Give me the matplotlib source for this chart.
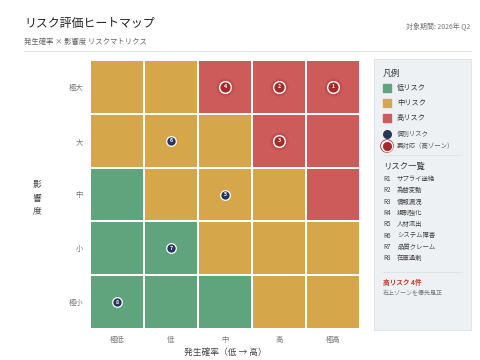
import numpy as np
import matplotlib
matplotlib.use("Agg")
import matplotlib.pyplot as plt
from matplotlib.colors import ListedColormap
from matplotlib.patches import Rectangle

plt.rcParams['font.family'] = ['Noto Sans CJK JP', 'DejaVu Sans']

#%% Data
prob_labels = ['極低', '低', '中', '高', '極高']
impact_labels = ['極小', '小', '中', '大', '極大']  # bottom -> top

# risk level per cell (rows bottom -> top): 0 low, 1 mid, 2 high
risk_level = np.array([
    [0, 0, 0, 1, 1],
    [0, 0, 1, 1, 1],
    [0, 1, 1, 1, 2],
    [1, 1, 1, 2, 2],
    [1, 1, 2, 2, 2],
])

risk_ids = ['R1', 'R2', 'R3', 'R4', 'R5', 'R6', 'R7', 'R8']
risk_names = ['サプライ途絶', '為替変動', '情報漏洩', '規制強化',
              '人材流出', 'システム障害', '品質クレーム', '在庫過剰']
risk_prob = [4, 3, 3, 2, 2, 1, 1, 0]
risk_impact = [4, 4, 3, 4, 2, 3, 1, 0]

level_names = ['低リスク', '中リスク', '高リスク']
level_colors = ['#5fa47c', '#d6a64a', '#cd5b5a']
navy = '#27365a'
darkred = '#a52b2b'

W, H = 480, 360
fig = plt.figure(figsize=(4.8, 3.6), dpi=100)

#%% Header
fig.text(24 / W, 1 - 23 / H, 'リスク評価ヒートマップ', fontsize=8.6, color='#222222', va='center')
fig.text(24 / W, 1 - 42 / H, '発生確率 × 影響度 リスクマトリクス', fontsize=5.3, color='#666666', va='center')
fig.text(470 / W, 1 - 27 / H, '対象期間: 2026年 Q2', fontsize=5, color='#777777', va='center', ha='right')
fig.add_artist(plt.Line2D([24 / W, 471 / W], [1 - 51 / H, 1 - 51 / H], color='#e2e4e8', lw=0.8))

#%% Heatmap
ax = fig.add_axes([90 / W, 31 / H, 270 / W, 269 / H])
ax.pcolormesh(np.arange(6) - 0.5, np.arange(6) - 0.5, risk_level,
              cmap=ListedColormap(level_colors), vmin=0, vmax=2,
              edgecolors='white', linewidth=1.2)
ax.set_xlim(-0.5, 4.5)
ax.set_ylim(-0.5, 4.5)
ax.set_xticks(range(5))
ax.set_xticklabels(prob_labels)
ax.set_yticks(range(5))
ax.set_yticklabels(impact_labels)
ax.tick_params(length=0, labelsize=5.3, labelcolor='#777777', pad=5)
for s in ax.spines.values():
    s.set_visible(False)
ax.set_xlabel('発生確率（低 → 高）', fontsize=6.3, color='#444444', labelpad=3)
fig.text(37 / W, 1 - 198 / H, '影\n響\n度', fontsize=6.3, color='#444444',
         ha='center', va='center', linespacing=1.6)

# markers
for i, rid in enumerate(risk_ids):
    x, y = risk_prob[i], risk_impact[i]
    if risk_level[y, x] == 2:
        ax.scatter(x, y, s=170, color='#b23a3a', alpha=0.35, linewidths=0, zorder=3)
        ax.scatter(x, y, s=70, color=darkred, edgecolors='white', linewidths=1.0, zorder=4)
    else:
        ax.scatter(x, y, s=48, color=navy, edgecolors='white', linewidths=0.9, zorder=4)
    ax.text(x, y, rid[1:], fontsize=3.8, color='white', ha='center', va='center',
            fontweight='bold', zorder=5)

#%% Legend panel
lg = fig.add_axes([374 / W, 30 / H, 97 / W, 271 / H])
lg.set_facecolor('#eef1f4')
lg.set_xlim(0, 97)
lg.set_ylim(271, 0)
lg.set_xticks([])
lg.set_yticks([])
for s in lg.spines.values():
    s.set_color('#dde1e6')
    s.set_linewidth(0.6)

lg.text(9, 14, '凡例', fontsize=6.3, color='#333333', va='center')
for k, (name, c) in enumerate(zip(level_names, level_colors)):
    yy = 29 + k * 15
    lg.add_patch(Rectangle((9, yy - 4), 8, 8, color=c))
    lg.text(23, yy, name, fontsize=5.2, color='#333333', va='center')
lg.scatter(13, 75, s=30, color=navy, zorder=3)
lg.text(23, 75, '個別リスク', fontsize=4.6, color='#555555', va='center')
lg.scatter(13, 87, s=55, color=darkred, edgecolors='white', linewidths=0.8, zorder=3)
lg.scatter(13, 87, s=85, facecolors='none', edgecolors='#b23a3a', linewidths=0.6, zorder=2)
lg.text(23, 87, '要対応（高ゾーン）', fontsize=4.6, color='#555555', va='center')
lg.plot([9, 88], [96, 96], color='#dde1e6', lw=0.6)

lg.text(9, 107, 'リスク一覧', fontsize=6, color='#333333', va='center')
for i, (rid, name) in enumerate(zip(risk_ids, risk_names)):
    yy = 120 + i * 11.3
    lg.text(9, yy, rid, fontsize=4.6, color='#444444', va='center')
    lg.text(23, yy, name, fontsize=4.6, color='#444444', va='center')
lg.plot([9, 88], [213, 213], color='#dde1e6', lw=0.6)

n_high = sum(1 for i in range(len(risk_ids)) if risk_level[risk_impact[i], risk_prob[i]] == 2)
lg.text(9, 223, f'高リスク {n_high}件', fontsize=4.8, color='#c0392b', va='center', fontweight='bold')
lg.text(9, 234, '右上ゾーンを優先是正', fontsize=4.3, color='#777777', va='center')

fig.savefig('out.png', dpi=100)
